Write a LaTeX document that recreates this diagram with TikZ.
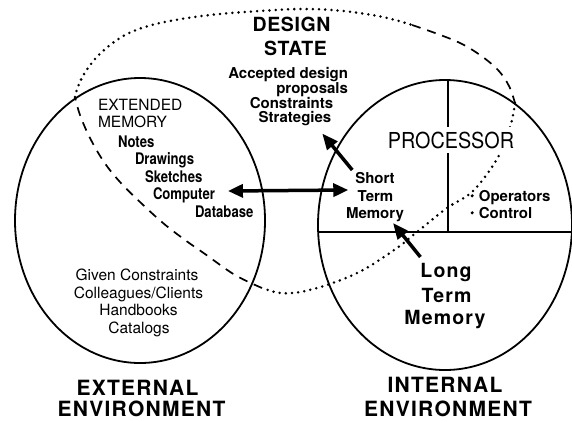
\documentclass[tikz,border=0pt]{standalone}
\usepackage{fontspec}
\setmainfont{TeX Gyre Heros}
\newfontfamily\herosWide[LetterSpace=3]{TeX Gyre Heros}
\newfontfamily\herosLong[LetterSpace=6]{TeX Gyre Heros}
\newfontfamily\herosNarrow[FakeStretch=0.82]{TeX Gyre Heros}
\newfontfamily\herosProc[FakeStretch=0.9]{TeX Gyre Heros}
\usetikzlibrary{arrows.meta,shapes.geometric}

% font shortcuts
\newcommand\fDesign{\herosWide\bfseries\fontsize{19.5}{22}\selectfont}
\newcommand\fBoldTxt{\bfseries\fontsize{15}{17}\selectfont}
\newcommand\fRegTxt{\fontsize{15.5}{17.5}\selectfont}
\newcommand\fNarrowTxt{\herosNarrow\bfseries\fontsize{16}{18}\selectfont}
\newcommand\fProcTxt{\herosProc\fontsize{22}{24}\selectfont}
\newcommand\fLongTxt{\herosLong\bfseries\fontsize{19.5}{22}\selectfont}
\newcommand\fEnvTxt{\herosLong\bfseries\fontsize{21}{24}\selectfont}
\newcommand\smallbullet{\raisebox{3.5pt}{\tikz\fill (0,0) circle (1.7pt);}\hspace{5pt}}

\tikzset{
  txt/.style={inner sep=0pt, outer sep=0pt},
  rim/.style={draw, ellipse, line width=1.8pt, inner sep=0pt, outer sep=0pt},
  divider/.style={line width=1.6pt},
  dotline/.style={line width=2.8pt, line cap=round, dash pattern=on 0pt off 6.2pt},
  dashline/.style={line width=1.7pt, dash pattern=on 9pt off 7pt},
  bigarrow/.style={line width=3.5pt, -{Triangle[length=16pt,width=13pt]}},
  dblarrow/.style={line width=3.5pt,
    {Triangle[length=15pt,width=13pt]}-{Triangle[length=15pt,width=13pt]}},
}

\begin{document}
\begin{tikzpicture}[x=1pt, y=-1pt]
\useasboundingbox (0,0) rectangle (572,420);

% the two environments
\node[rim, minimum width=250pt, minimum height=285pt] (extenv) at (140,220.5) {};
\node[rim, minimum width=254pt, minimum height=290pt] (intenv) at (445,225) {};

% partitions of the internal environment
\coordinate (hl) at (318.2,232);
\coordinate (hr) at (571.9,232);
\coordinate (vt) at (448,80.1);
\coordinate (vb) at (448,232);
\draw[divider] (hl) -- (hr);
\draw[divider] (vt) -- (vb);

% design state boundary
\draw[dotline] plot[smooth, tension=0.6] coordinates {
  (75,97) (79,84) (88,68) (103,51) (127,34) (160,23) (210,15) (260,11)
  (303,9) (343,11) (383,17) (412,25)};
\draw[dashline] plot[smooth, tension=0.6] coordinates {
  (412,25) (435,33) (460,43) (480,55) (498,70) (509,86) (515,103)};
\draw[dotline] plot[smooth, tension=0.6] coordinates {
  (515,103) (513,115) (509,130) (497,159) (473,191) (447,208) (417,232)
  (397,248) (363,270) (330,284) (300,292) (280,293) (262,288)};
\draw[dashline] plot[smooth, tension=0.6] coordinates {
  (262,288) (235,275) (205,254) (185,240) (163,223) (140,202) (120,182)
  (104,162) (90,138) (80,115) (75,97)};

% design state texts
\node[txt, anchor=base, font=\fDesign] (dsA) at (291.5,32) {DESIGN};
\node[txt, anchor=base, font=\fDesign] (dsB) at (295.5,55.5) {STATE};
\node[txt, anchor=base east, font=\fBoldTxt] (acc) at (348,78) {Accepted design};
\node[txt, anchor=base east, font=\fBoldTxt] (prop) at (348,93) {proposals};
\node[txt, anchor=base, font=\fBoldTxt] (cons) at (291.5,108) {Constraints};
\node[txt, anchor=base, font=\fBoldTxt] (strat) at (295,122.5) {Strategies};

% extended memory
\node[txt, anchor=base west, font=\fRegTxt] (extA) at (98,110) {EXTENDED};
\node[txt, anchor=base west, font=\fRegTxt] (extB) at (98,127) {MEMORY};
\node[txt, anchor=base west, font=\fNarrowTxt] (notes) at (118,147) {Notes};
\node[txt, anchor=base west, font=\fNarrowTxt] (drw) at (135,164) {Drawings};
\node[txt, anchor=base west, font=\fNarrowTxt] (skt) at (145,182) {Sketches};
\node[txt, anchor=base west, font=\fNarrowTxt] (comp) at (153,199) {Computer};
\node[txt, anchor=base west, font=\fNarrowTxt] (dbase) at (195,217) {Database};

% external sources
\node[txt, anchor=base, font=\fRegTxt] (given) at (137,280) {Given Constraints};
\node[txt, anchor=base, font=\fRegTxt] (coll) at (138.5,298.5) {Colleagues/Clients};
\node[txt, anchor=base, font=\fRegTxt] (hand) at (138.5,315) {Handbooks};
\node[txt, anchor=base, font=\fRegTxt] (cat) at (139,333) {Catalogs};

% internal environment texts
\node[txt, anchor=base, font=\fBoldTxt] (stA) at (375,183) {Short};
\node[txt, anchor=base, font=\fBoldTxt] (stB) at (375.5,201) {Term};
\node[txt, anchor=base, font=\fBoldTxt] (stC) at (375,218) {Memory};
\node[txt, anchor=base, font=\fProcTxt, fill=white, inner sep=5pt] (proc) at (451,148) {PROCESSOR};
\node[txt, anchor=base west, font=\fBoldTxt] (ops) at (470.5,201) {\smallbullet Operators};
\node[txt, anchor=base west, font=\fBoldTxt] (ctl) at (470.5,218) {\smallbullet Control};
\node[txt, anchor=base, font=\fLongTxt] (ltA) at (446,277) {Long};
\node[txt, anchor=base, font=\fLongTxt] (ltB) at (446.5,302) {Term};
\node[txt, anchor=base, font=\fLongTxt] (ltC) at (445,324) {Memory};

% captions
\node[txt, anchor=base, font=\fEnvTxt] (exA) at (137.5,395) {EXTERNAL};
\node[txt, anchor=base, font=\fEnvTxt] (exB) at (141.5,416) {ENVIRONMENT};
\node[txt, anchor=base, font=\fEnvTxt] (inA) at (445,392) {INTERNAL};
\node[txt, anchor=base, font=\fEnvTxt] (inB) at (448,416) {ENVIRONMENT};

% information flows
\draw[dblarrow] ([shift={(13pt,8pt)}]comp.base east) -- ([shift={(-7pt,-7pt)}]stA.base west);
\draw[bigarrow] ([shift={(-3pt,13pt)}]stA.base west) -- ([shift={(-9pt,-11pt)}]strat.base east);
\draw[bigarrow] ([shift={(0pt,20pt)}]ltA.base west) -- ([shift={(18pt,-5pt)}]stC.base);
\end{tikzpicture}
\end{document}
